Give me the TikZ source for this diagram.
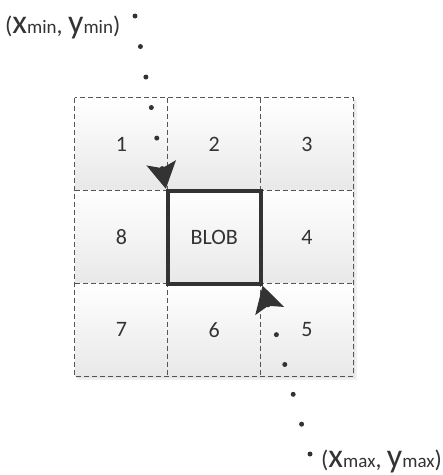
\documentclass[tikz,border=0pt]{standalone}
\usepackage{fontspec}
\setmainfont{Carlito}
\usetikzlibrary{arrows.meta,shadings}
\definecolor{ink}{HTML}{333333}
\definecolor{gridline}{HTML}{555555}
\definecolor{cellbot}{HTML}{E8E8E8}
\tikzset{
  cellbox/.style={rectangle, minimum width=92.7pt, minimum height=92.7pt,
    inner sep=0pt, top color=white, bottom color=cellbot, text=ink,
    font=\fontsize{22}{26}\selectfont},
  blobbox/.style={rectangle, minimum width=92.7pt, minimum height=92.7pt,
    inner sep=0pt, draw=ink, line width=4pt, text=ink,
    font=\fontsize{22}{26}\selectfont},
  gridedge/.style={draw=gridline, line width=1pt, dash pattern=on 5pt off 3pt},
  dotpath/.style={draw=ink, line width=5pt, line cap=round,
    dash pattern=on 0pt off 31pt,
    -{Stealth[length=26pt 0, width=29pt 0, inset=5pt 0]}},
  lbl/.style={anchor=base west, inner sep=0pt, text=ink}
}
\newcommand{\mybigl}[1]{{\fontsize{34}{34}\selectfont #1}}
\newcommand{\mysmalll}[1]{{\fontsize{19}{19}\selectfont #1}}
\newcommand{\myparl}[1]{{\fontsize{24}{24}\selectfont #1}}
\begin{document}
\begin{tikzpicture}[x=1pt,y=-1pt]
\useasboundingbox (0,0) rectangle (443,475);
% faint shadow
\fill[black, opacity=0.06] (77,100) rectangle (357,380);
\fill[black, opacity=0.06] (76,99) rectangle (355,378);
% grid cells
\node[cellbox] (c1) at (121.5,144.5) {1};
\node[cellbox] (c2) at (214.2,144.5) {2};
\node[cellbox] (c3) at (306.9,144.5) {3};
\node[cellbox] (c8) at (121.5,237.2) {8};
\node[cellbox] (c4) at (306.9,237.2) {4};
\node[cellbox] (c7) at (121.5,329.9) {7};
\node[cellbox] (c6) at (214.2,329.9) {6};
\node[cellbox] (c5) at (306.9,329.9) {5};
\node[cellbox] (cb) at (214.2,237.2) {};
% dashed grid lines
\draw[gridedge] (c1.north west) rectangle (c5.south east);
\draw[gridedge] (c2.north west) -- (c6.south west);
\draw[gridedge] (c3.north west) -- (c5.south west);
\draw[gridedge] (c8.north west) -- (c4.north east);
\draw[gridedge] (c7.north west) -- (c5.north east);
\node[blobbox] (blob) at (214.2,237.2) {BLOB};
% labels
\node[lbl] (lmin) at (5,33) {\myparl{(}\mybigl{x}\mysmalll{min}\myparl{, }\mybigl{y}\mysmalll{min}\myparl{)}};
\node[lbl] (lmax) at (321,467) {\myparl{(}\mybigl{x}\mysmalll{max}\myparl{, }\mybigl{y}\mysmalll{max}\myparl{)}};
% dotted arrows
\coordinate (s1) at (135,16);
\coordinate (s2) at (310,454);
\draw[dotpath] (s1) -- (blob.north west);
\draw[dotpath] (s2) -- (blob.south east);
\end{tikzpicture}
\end{document}
